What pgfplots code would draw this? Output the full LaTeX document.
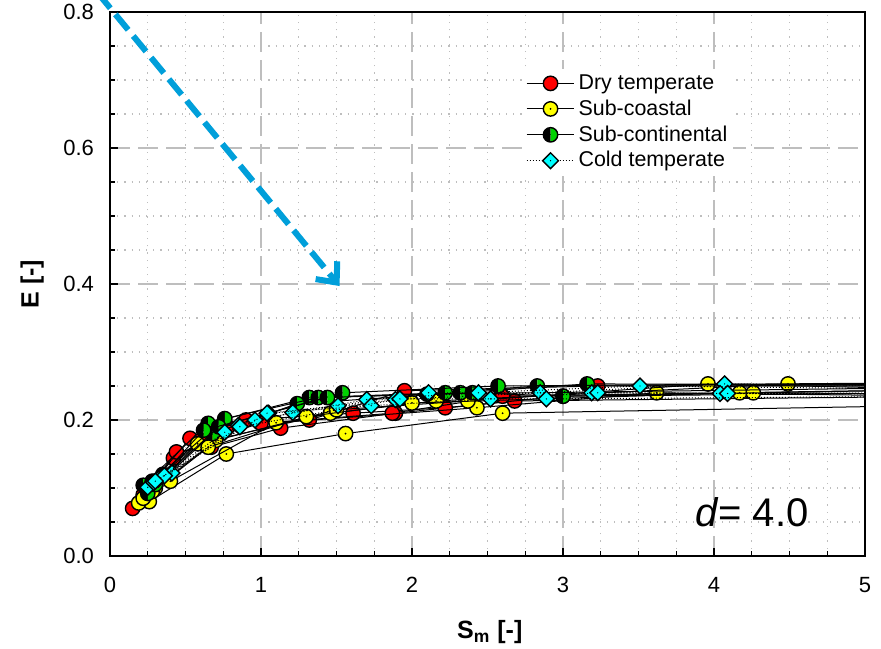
\documentclass[border=0pt]{standalone}
\usepackage{fontspec}
\setmainfont{Liberation Sans}
\usepackage{pgfplots}
\pgfplotsset{compat=1.18}
\usetikzlibrary{arrows.meta}

\definecolor{arrowblue}{RGB}{0,159,218}
\definecolor{subgreen}{RGB}{0,210,0}
\definecolor{gridgray}{RGB}{190,190,190}
\definecolor{dryred}{RGB}{255,0,0}
\definecolor{coastyellow}{RGB}{255,255,0}
\definecolor{coldcyan}{RGB}{0,255,255}

% marks
\pgfdeclareplotmark{dotcirc}{%
  \pgfpathcircle{\pgfpointorigin}{\pgfplotmarksize}\pgfusepathqfillstroke
  \pgfscope\pgfsetfillcolor{black}%
  \pgfpathcircle{\pgfpointorigin}{0.5pt}\pgfusepathqfill\endpgfscope}
\pgfdeclareplotmark{dotdia}{%
  \pgfpathmoveto{\pgfqpoint{0pt}{1.2\pgfplotmarksize}}%
  \pgfpathlineto{\pgfqpoint{1.2\pgfplotmarksize}{0pt}}%
  \pgfpathlineto{\pgfqpoint{0pt}{-1.2\pgfplotmarksize}}%
  \pgfpathlineto{\pgfqpoint{-1.2\pgfplotmarksize}{0pt}}%
  \pgfpathclose\pgfusepathqfillstroke
  \pgfscope\pgfsetfillcolor{black}%
  \pgfpathcircle{\pgfpointorigin}{0.35pt}\pgfusepathqfill\endpgfscope}
\pgfdeclareplotmark{halfbg}{%
  \pgfscope\pgfsetfillcolor{black}%
  \pgfpathmoveto{\pgfqpoint{0pt}{\pgfplotmarksize}}%
  \pgfpatharc{90}{270}{\pgfplotmarksize}\pgfpathclose\pgfusepathqfill\endpgfscope
  \pgfscope\pgfsetfillcolor{subgreen}%
  \pgfpathmoveto{\pgfqpoint{0pt}{-\pgfplotmarksize}}%
  \pgfpatharc{-90}{90}{\pgfplotmarksize}\pgfpathclose\pgfusepathqfill\endpgfscope
  \pgfpathcircle{\pgfpointorigin}{\pgfplotmarksize}\pgfusepathqstroke}

\begin{document}
\begin{tikzpicture}
\begin{axis}[
  width=377.5pt, height=272pt, scale only axis,
  xmin=0, xmax=5, ymin=0, ymax=0.8,
  xtick={0,1,...,5}, ytick={0,0.2,0.4,0.6,0.8},
  minor x tick num=3, minor y tick num=3,
  xtick pos=bottom, ytick pos=left, tick align=inside,
  major tick length=4pt, minor tick length=2.5pt,
  axis line style={line width=0.8pt},
  every tick/.style={black, line width=0.6pt},
  grid=both,
  major grid style={gridgray, line width=0.6pt, dash pattern=on 10pt off 4pt},
  minor grid style={gridgray, line width=0.6pt, dash pattern=on 0.6pt off 3pt},
  /pgf/number format/assume math mode=true,
  tick label style={font=\fontsize{11}{13}\selectfont},
  yticklabel style={/pgf/number format/fixed, /pgf/number format/fixed zerofill,
    /pgf/number format/precision=1, xshift=-4.5pt},
  xticklabel style={yshift=-7pt},
  xlabel={\textbf{S\textsubscript{m} [-]}},
  ylabel={\textbf{E [-]}},
  label style={font=\fontsize{12.5}{15}\selectfont},
  xlabel style={at={(axis description cs:0.503,-0.14)}, anchor=center},
  ylabel style={at={(axis description cs:-0.103,0.5)}, anchor=center},
  clip mode=individual,
  legend style={at={(axis cs:2.74,0.717)}, anchor=north west, draw=none, fill=white,
    font=\fontsize{10.7}{12.5}\selectfont, row sep=0pt, inner sep=1pt,
    nodes={inner sep=1.85pt}},
  legend cell align=left,
  legend image code/.code={\draw[mark repeat=2,mark phase=2] plot coordinates {(0cm,0cm) (0.42cm,0cm) (0.84cm,0cm)};},
  dryS/.style={black, solid, line width=0.5pt, mark=*, mark size=3.6pt, mark options={solid, fill=dryred, draw=black, line width=0.7pt}},
  coastS/.style={black, solid, line width=0.5pt, mark=dotcirc, mark size=3.6pt, mark options={solid, fill=coastyellow, draw=black, line width=0.7pt}},
  contS/.style={black, solid, line width=0.5pt, mark=halfbg, mark size=3.6pt, mark options={solid, draw=black, line width=0.7pt}},
  coldS/.style={black, densely dotted, line width=0.5pt, mark=dotdia, mark size=3.3pt, mark options={solid, fill=coldcyan, draw=black, line width=0.7pt}},
]
\addlegendimage{dryS}\addlegendentry{Dry temperate}
\addlegendimage{coastS}\addlegendentry{Sub-coastal}
\addlegendimage{contS}\addlegendentry{Sub-continental}
\addlegendimage{coldS}\addlegendentry{Cold temperate}

% Dry temperate
\addplot[dryS, forget plot] coordinates {(0.15,0.07) (0.42,0.144) (0.78,0.19) (1.32,0.20) (1.95,0.243) (3.23,0.25) (5.6,0.25)};
\addplot[dryS, forget plot] coordinates {(0.22,0.09) (0.44,0.153) (0.67,0.16) (1.13,0.188) (1.89,0.21) (2.68,0.228) (5.6,0.235)};
\addplot[dryS, forget plot] coordinates {(0.25,0.10) (0.53,0.173) (0.90,0.20) (1.61,0.21) (2.22,0.218) (3.00,0.235) (5.6,0.24)};
\addplot[dryS, forget plot] coordinates {(0.30,0.11) (0.60,0.17) (1.00,0.195) (1.87,0.21) (2.60,0.235) (5.6,0.245)};
% Sub-coastal
\addplot[coastS, forget plot] coordinates {(0.26,0.08) (0.77,0.15) (1.56,0.18) (2.60,0.21) (5.6,0.222)};
\addplot[coastS, forget plot] coordinates {(0.19,0.078) (0.40,0.11) (1.10,0.196) (2.43,0.218) (3.62,0.24) (5.6,0.235)};
\addplot[coastS, forget plot] coordinates {(0.22,0.085) (0.58,0.165) (1.46,0.21) (2.16,0.228) (4.49,0.253) (5.6,0.25)};
\addplot[coastS, forget plot] coordinates {(0.30,0.10) (0.70,0.17) (1.50,0.215) (2.37,0.228) (3.96,0.253) (5.6,0.245)};
\addplot[coastS, forget plot] coordinates {(0.28,0.095) (0.65,0.16) (1.30,0.205) (2.00,0.225) (4.17,0.24) (4.26,0.24) (5.6,0.238)};
% Sub-continental
\addplot[contS, forget plot] coordinates {(0.22,0.104) (0.65,0.195) (1.32,0.233) (2.22,0.24) (2.83,0.25) (5.6,0.25)};
\addplot[contS, forget plot] coordinates {(0.25,0.092) (0.68,0.18) (1.24,0.224) (2.32,0.24) (3.16,0.253) (5.6,0.252)};
\addplot[contS, forget plot] coordinates {(0.28,0.11) (0.76,0.202) (1.38,0.233) (2.40,0.24) (3.00,0.235) (5.6,0.245)};
\addplot[contS, forget plot] coordinates {(0.30,0.105) (0.72,0.19) (1.54,0.24) (2.57,0.25) (5.6,0.255)};
\addplot[contS, forget plot] coordinates {(0.35,0.12) (0.62,0.185) (1.44,0.233) (2.10,0.238) (5.6,0.248)};
% Cold temperate
\addplot[coldS, forget plot] coordinates {(0.25,0.101) (0.41,0.122) (0.85,0.192) (1.21,0.211) (1.89,0.23) (2.85,0.24) (4.07,0.253) (5.6,0.25)};
\addplot[coldS, forget plot] coordinates {(0.32,0.113) (0.76,0.182) (1.05,0.21) (1.51,0.221) (2.11,0.24) (3.19,0.24) (4.04,0.239) (5.6,0.24)};
\addplot[coldS, forget plot] coordinates {(0.29,0.108) (0.96,0.20) (1.70,0.23) (2.44,0.24) (3.51,0.25) (5.6,0.245)};
\addplot[coldS, forget plot] coordinates {(0.36,0.118) (1.04,0.21) (1.73,0.221) (2.52,0.231) (3.23,0.24) (4.09,0.239) (5.6,0.238)};
\addplot[coldS, forget plot] coordinates {(0.30,0.11) (0.86,0.19) (1.92,0.231) (2.89,0.231) (5.6,0.235)};

\node[font=\fontsize{20}{24}\selectfont] at (axis cs:4.25,0.064) {\textit{d}= 4.0};
\draw[arrowblue, line width=3pt, dash pattern=on 10pt off 4pt, -{Straight Barb[length=8pt,width=14pt]}]
  (axis cs:-0.2,0.86) -- (axis cs:1.52,0.397);
\end{axis}
\pgfresetboundingbox
\path ([shift={(-55pt,-46.5pt)}]current axis.south west) rectangle ([shift={(8pt,6pt)}]current axis.north east);
\end{tikzpicture}
\end{document}
